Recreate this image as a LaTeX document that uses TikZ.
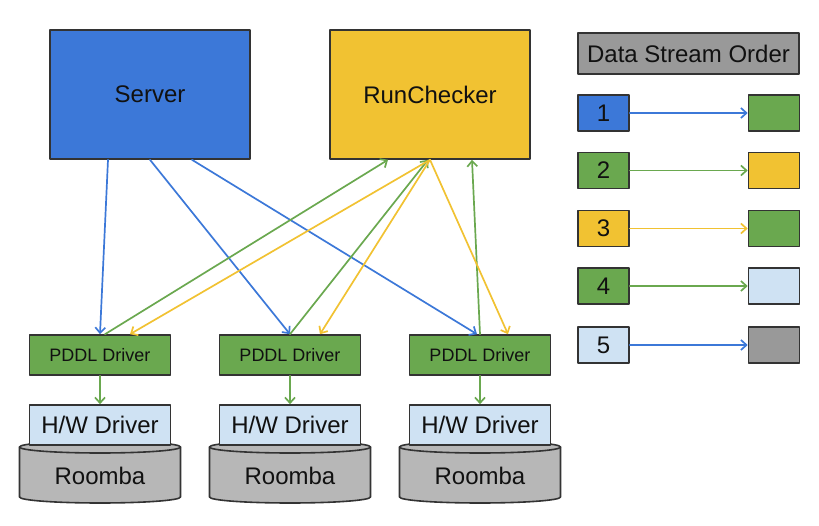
\documentclass[tikz,border=0pt]{standalone}
\usepackage{fontspec}
\setmainfont{Liberation Sans}
\usepackage{tikz}
\usetikzlibrary{arrows.meta}
\definecolor{srvblue}{HTML}{3C78D8}
\definecolor{drvgreen}{HTML}{6AA84F}
\definecolor{chkyellow}{HTML}{F1C232}
\definecolor{hwblue}{HTML}{CFE2F3}
\definecolor{lgdgrey}{HTML}{999999}
\definecolor{rmbgrey}{HTML}{B7B7B7}
\definecolor{edge}{HTML}{333333}
\definecolor{txt}{HTML}{111111}

\begin{document}
\begin{tikzpicture}[line cap=round,line join=round,>={Straight Barb[length=5.5pt,width=10pt]},x=1pt,y=1pt,
  box/.style={draw=edge,line width=1.6pt,text=txt,inner sep=0pt,font=\fontsize{24}{28}\selectfont},
  small/.style={box,minimum width=51pt,minimum height=36pt},
  flow/.style={->,line width=1.7pt}]
\useasboundingbox (0,0) rectangle (819,525);
         % top boxes
         \node[box,fill=srvblue,minimum width=200pt,minimum height=129pt] (srv) at (150,430.5) {Server};
         \node[box,fill=chkyellow,minimum width=200pt,minimum height=129pt] (chk) at (430,430.5) {RunChecker};

         % roombas
         \draw[draw=edge,line width=1.6pt,fill=rmbgrey] (19.5,78) -- (19.5,28) arc[start angle=180,end angle=360,x radius=80.5,y radius=6] -- (180.5,78) arc[start angle=0,end angle=180,x radius=80.5,y radius=6] -- cycle;
         \draw[draw=edge,line width=1.6pt] (19.5,78) arc[start angle=180,end angle=360,x radius=80.5,y radius=6];
         \draw[draw=edge,line width=1.6pt,fill=rmbgrey] (209.5,78) -- (209.5,28) arc[start angle=180,end angle=360,x radius=80.5,y radius=6] -- (370.5,78) arc[start angle=0,end angle=180,x radius=80.5,y radius=6] -- cycle;
         \draw[draw=edge,line width=1.6pt] (209.5,78) arc[start angle=180,end angle=360,x radius=80.5,y radius=6];
         \draw[draw=edge,line width=1.6pt,fill=rmbgrey] (399.5,78) -- (399.5,28) arc[start angle=180,end angle=360,x radius=80.5,y radius=6] -- (560.5,78) arc[start angle=0,end angle=180,x radius=80.5,y radius=6] -- cycle;
         \draw[draw=edge,line width=1.6pt] (399.5,78) arc[start angle=180,end angle=360,x radius=80.5,y radius=6];
         \node[text=txt,font=\fontsize{24}{28}\selectfont] (rmb1) at (100,49) {Roomba};
         \node[text=txt,font=\fontsize{24}{28}\selectfont] (rmb2) at (290,49) {Roomba};
         \node[text=txt,font=\fontsize{24}{28}\selectfont] (rmb3) at (480,49) {Roomba};

         % drivers
         \node[box,fill=drvgreen,minimum width=141pt,minimum height=40pt,font=\fontsize{18}{20}\selectfont] (pddl1) at (100,170) {PDDL Driver};
         \node[box,fill=drvgreen,minimum width=141pt,minimum height=40pt,font=\fontsize{18}{20}\selectfont] (pddl2) at (290,170) {PDDL Driver};
         \node[box,fill=drvgreen,minimum width=141pt,minimum height=40pt,font=\fontsize{18}{20}\selectfont] (pddl3) at (480,170) {PDDL Driver};
         \node[box,fill=hwblue,minimum width=141pt,minimum height=40pt] (hw1) at (100,100) {H/W Driver};
         \node[box,fill=hwblue,minimum width=141pt,minimum height=40pt] (hw2) at (290,100) {H/W Driver};
         \node[box,fill=hwblue,minimum width=141pt,minimum height=40pt] (hw3) at (480,100) {H/W Driver};

         \draw[flow,color=drvgreen] (pddl1) -- (hw1);
         \draw[flow,color=drvgreen] (pddl2) -- (hw2);
         \draw[flow,color=drvgreen] (pddl3) -- (hw3);

         % data streams
         \draw[flow,color=srvblue] ([xshift=-42pt]srv.south) -- (pddl1.north);
         \draw[flow,color=srvblue] (srv.south) -- (pddl2.north);
         \draw[flow,color=srvblue] ([xshift=42pt]srv.south) -- ([xshift=-3pt]pddl3.north);
         \draw[flow,color=drvgreen] ([xshift=5pt]pddl1.north) -- ([xshift=-42pt]chk.south);
         \draw[flow,color=drvgreen] (pddl2.north) -- ([xshift=-2pt]chk.south);
         \draw[flow,color=drvgreen] (pddl3.north) -- ([xshift=42pt]chk.south);
         \draw[flow,color=chkyellow] (chk.south) -- ([xshift=30pt]pddl1.north);
         \draw[flow,color=chkyellow] (chk.south) -- ([xshift=30pt]pddl2.north);
         \draw[flow,color=chkyellow] (chk.south) -- ([xshift=28pt]pddl3.north);

         % legend
         \node[box,fill=lgdgrey,minimum width=221pt,minimum height=41pt] (order) at (688.5,471.5) {Data Stream Order};
         \node[small,fill=srvblue] (from1) at (603.5,412) {1};
         \node[small,fill=drvgreen] (to1) at (774,412) {};
         \node[small,fill=drvgreen] (from2) at (603.5,354.5) {2};
         \node[small,fill=chkyellow] (to2) at (774,354.5) {};
         \node[small,fill=chkyellow] (from3) at (603.5,296.5) {3};
         \node[small,fill=drvgreen] (to3) at (774,296.5) {};
         \node[small,fill=drvgreen] (from4) at (603.5,239) {4};
         \node[small,fill=hwblue] (to4) at (774,239) {};
         \node[small,fill=hwblue] (from5) at (603.5,180) {5};
         \node[small,fill=lgdgrey] (to5) at (774,180) {};
         \draw[flow,color=srvblue] (from1) -- (to1);
         \draw[flow,color=drvgreen] (from2) -- (to2);
         \draw[flow,color=chkyellow] (from3) -- (to3);
         \draw[flow,color=drvgreen] (from4) -- (to4);
         \draw[flow,color=srvblue] (from5) -- (to5);
       \end{tikzpicture}
\end{document}
